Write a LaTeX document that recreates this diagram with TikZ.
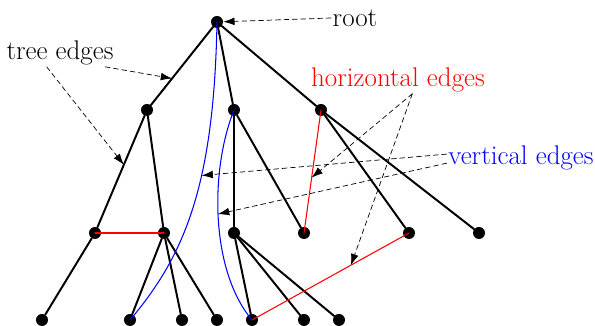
\documentclass[tikz,border=0pt]{standalone}
\usetikzlibrary{arrows.meta}
\begin{document}
\begin{tikzpicture}[>={Latex[length=8pt,width=5.5pt]}, x=0.025cm, y=-0.025cm, font=\fontsize{19.2}{23}\selectfont, line join=round, line cap=round,
	vtx/.style={circle, fill=black, inner sep=0pt, minimum size=0.3cm},
	tedge/.style={line width=1.4pt},
	hedge/.style={red, line width=0.75pt},
	vedge/.style={blue, line width=0.75pt},
	note/.style={->, dash pattern=on 3.5pt off 2.5pt, line width=0.5pt},
	lbl/.style={inner sep=1pt}]
	\useasboundingbox (0,0) rectangle (595,326);
	% --- Đỉnh ---
	\node[vtx] (r) at (217,22) {};
	\node[vtx] (a) at (147,110) {};
	\node[vtx] (b) at (234,110) {};
	\node[vtx] (c) at (321,110) {};
	\node[vtx] (d) at (95,233) {};
	\node[vtx] (e) at (164,233) {};
	\node[vtx] (f) at (234,233) {};
	\node[vtx] (g) at (304,233) {};
	\node[vtx] (h) at (409,233) {};
	\node[vtx] (i) at (479,233) {};
	\node[vtx] (j) at (42,320) {};
	\node[vtx] (k) at (130,320) {};
	\node[vtx] (l) at (182,320) {};
	\node[vtx] (m) at (217,320) {};
	\node[vtx] (n) at (252,320) {};
	\node[vtx] (o) at (304,320) {};
	\node[vtx] (p) at (339,320) {};
	% --- Cạnh cây ---
	\draw[tedge] (r) -- coordinate[pos=0.66] (t1) (a);
	\draw[tedge] (r) -- (b);
	\draw[tedge] (r) -- (c);
	\draw[tedge] (a) -- coordinate[pos=0.44] (t2) (d);
	\draw[tedge] (a) -- (e);
	\draw[tedge] (b) -- (f);
	\draw[tedge] (b) -- (g);
	\draw[tedge] (c) -- (h);
	\draw[tedge] (c) -- (i);
	\draw[tedge] (d) -- (j);
	\draw[tedge] (e) -- (k);
	\draw[tedge] (e) -- (l);
	\draw[tedge] (e) -- (m);
	\draw[tedge] (f) -- (n);
	\draw[tedge] (f) -- (o);
	\draw[tedge] (f) -- (p);
	% --- Cạnh ngang ---
	\draw[hedge] (d.center) -- (e.center);
	\draw[hedge] (c.center) -- coordinate[pos=0.55] (h1) (g.center);
	\draw[hedge] (h.center) -- coordinate[pos=0.37] (h2) (n.center);
	% --- Cạnh dọc ---
	\draw[vedge] (r.center) .. controls (214,185) and (185,255) .. coordinate[pos=0.39] (v1) (k.center);
	\draw[vedge] (b.center) .. controls (210,170) and (210,270) .. coordinate[pos=0.48] (v2) (n.center);
	% --- Nhãn ---
	\node[lbl] (lroot) at (355,18) {root};
	\node[lbl] (ltree) at (60,53) {tree edges};
	\node[lbl, red] (lhor) at (398,80) {horizontal edges};
	\node[lbl, blue] (lver) at (521,158) {vertical edges};
	\draw[note] (lroot.west) -- (r);
	\draw[note] (ltree.343) -- (t1);
	\draw[note] (ltree.226) -- (t2);
	\draw[note] (lhor.316) -- (h1);
	\draw[note] (lhor.316) -- (h2);
	\draw[note] (lver.177) -- (v1);
	\draw[note] (lver.184) -- (v2);
\end{tikzpicture}
\end{document}
